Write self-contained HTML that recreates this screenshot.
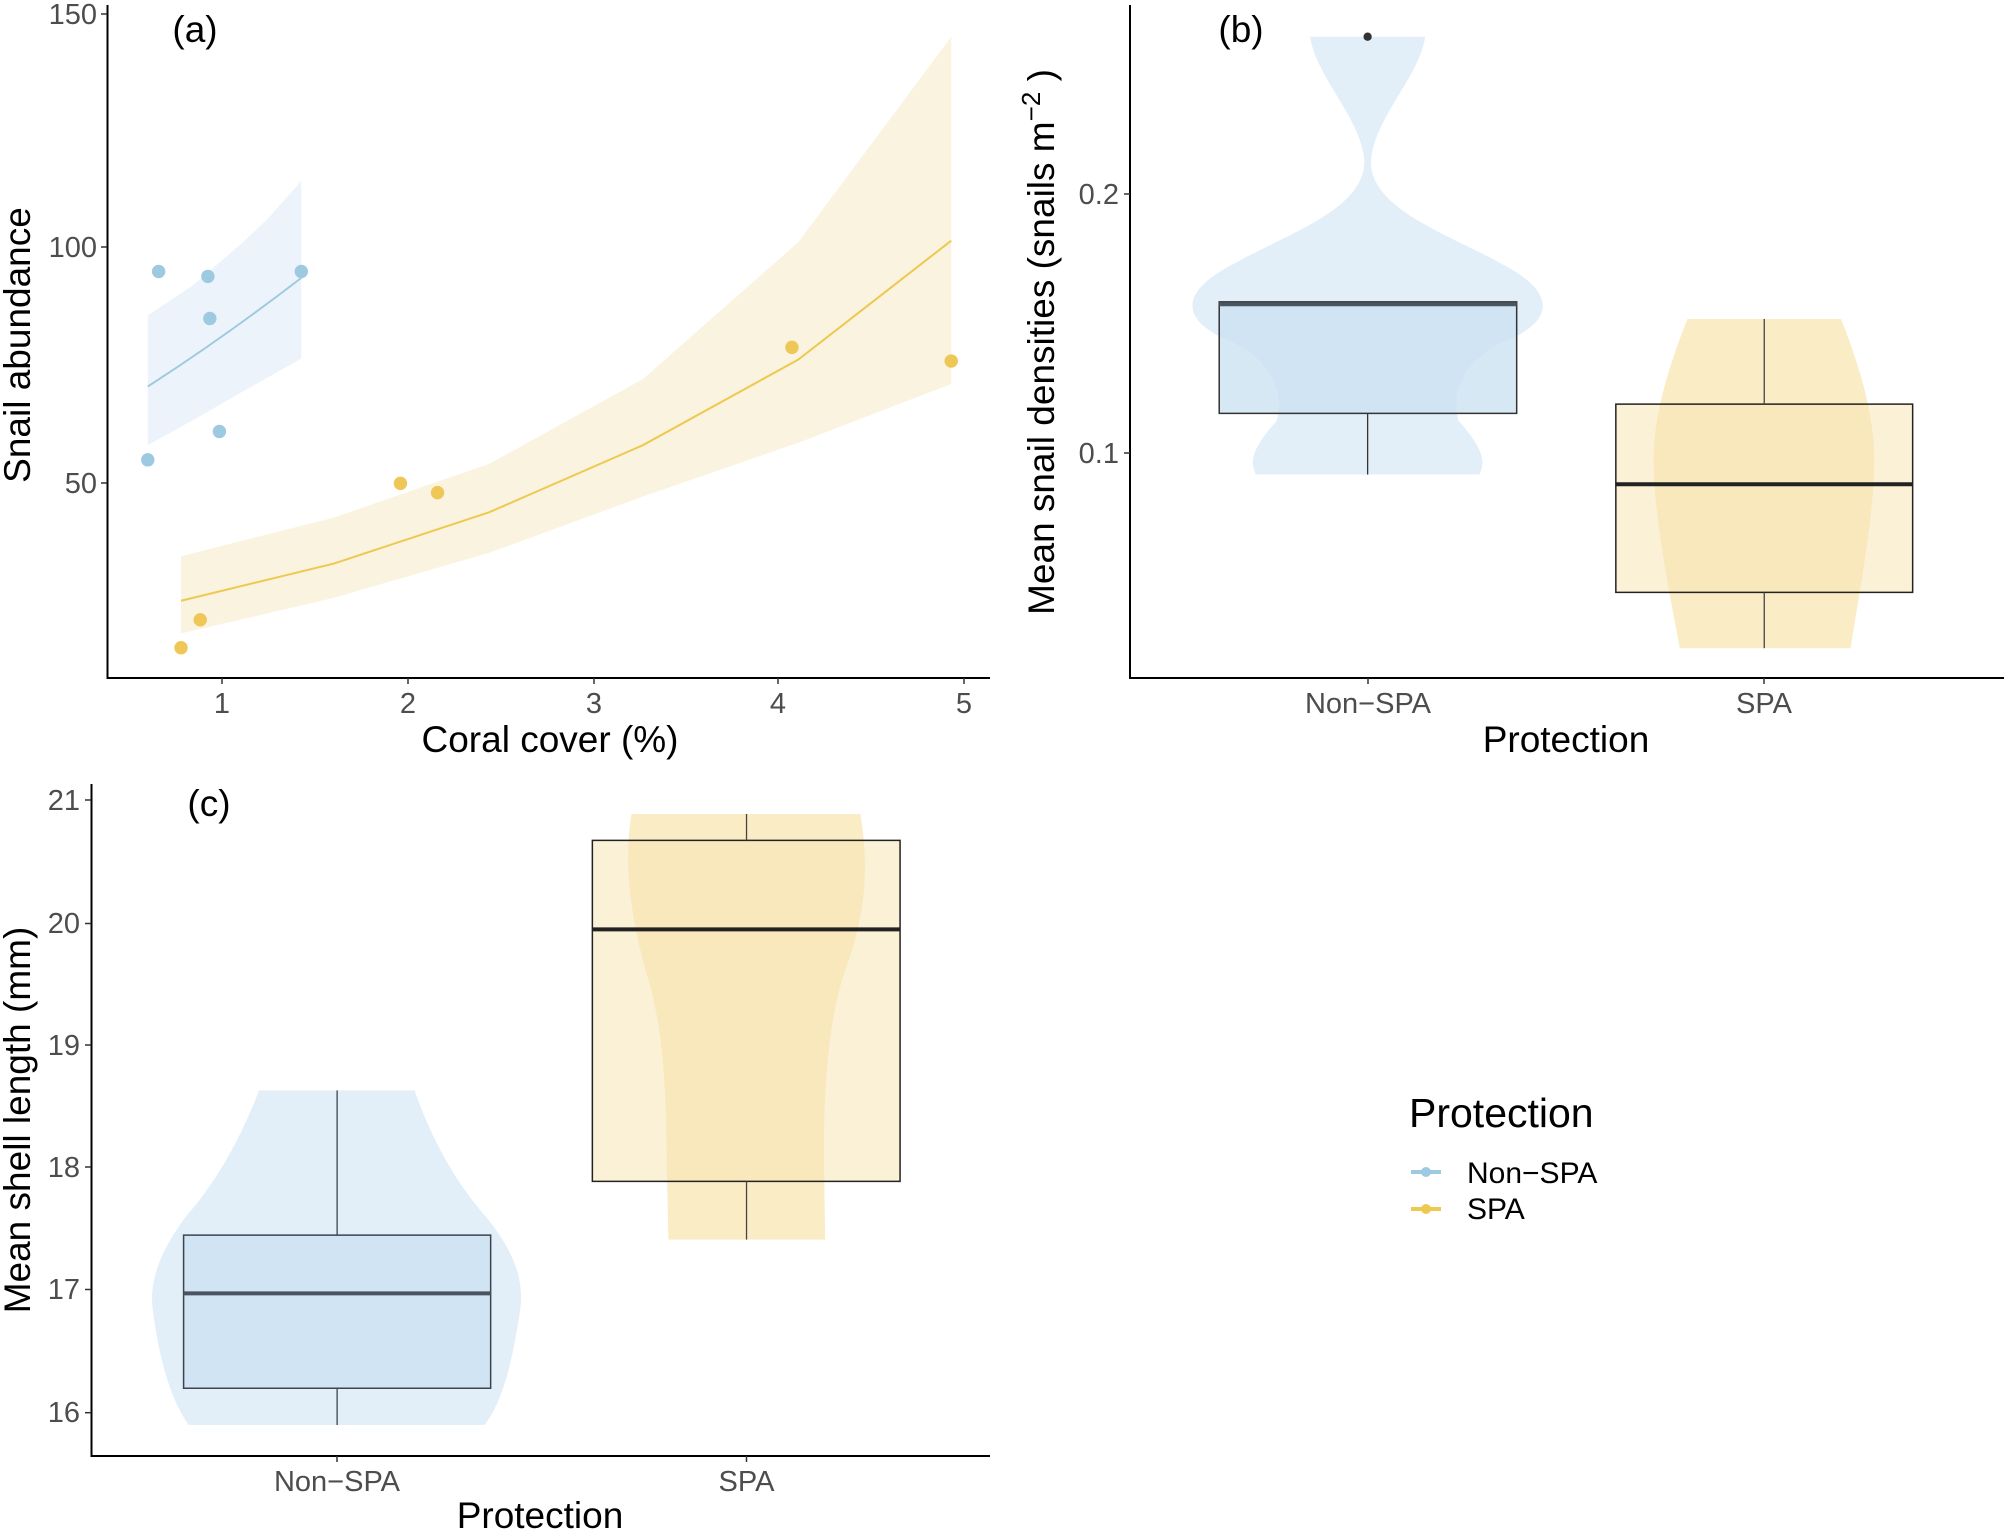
<!DOCTYPE html>
<html><head><meta charset="utf-8"><style>
html,body{margin:0;padding:0;background:#fff;overflow:hidden;}
svg{display:block;}
text{font-family:"Liberation Sans",sans-serif;}
</style></head><body>
<svg width="2006" height="1534" viewBox="0 0 2006 1534" xmlns="http://www.w3.org/2000/svg">
<rect width="2006" height="1534" fill="#fff"/>

<!-- Panel a shapes -->
<g transform="scale(0.6397,0.4892)">
  <polygon points="231,645 300,585 380,495 420,445 471,370 471,733 380,800 300,860 231,910" fill="#edf3fa"/>
  <polygon points="283,1137 522,1058 765,948 1005,775 1248,495 1487,75 1487,785 1248,905 1005,1015 765,1130 522,1222 283,1295" fill="#faf3e0"/>
  <path d="M231,790 Q350,690 471,568" fill="none" stroke="#9ecae1" stroke-width="2" vector-effect="non-scaling-stroke"/>
  <polyline points="283,1228 522,1152 765,1047 1005,910 1248,735 1487,492" fill="none" stroke="#eec94f" stroke-width="2" vector-effect="non-scaling-stroke"/>
  <g fill="#9ecae1">
    <ellipse cx="248" cy="555" rx="10.5" ry="13.7"/><ellipse cx="325" cy="565" rx="10.5" ry="13.7"/><ellipse cx="328" cy="651" rx="10.5" ry="13.7"/>
    <ellipse cx="343" cy="882" rx="10.5" ry="13.7"/><ellipse cx="231" cy="940" rx="10.5" ry="13.7"/><ellipse cx="471" cy="555" rx="10.5" ry="13.7"/>
  </g>
  <g fill="#efc757">
    <ellipse cx="283" cy="1324" rx="10.5" ry="13.7"/><ellipse cx="313" cy="1267" rx="10.5" ry="13.7"/><ellipse cx="626" cy="988" rx="10.5" ry="13.7"/>
    <ellipse cx="684" cy="1007" rx="10.5" ry="13.7"/><ellipse cx="1238" cy="710" rx="10.5" ry="13.7"/><ellipse cx="1487" cy="738" rx="10.5" ry="13.7"/>
  </g>
</g>
<g stroke="#000" stroke-width="2" fill="none">
  <line x1="107.5" y1="5" x2="107.5" y2="679"/><line x1="106.5" y1="678" x2="990" y2="678"/>
</g>
<g stroke="#333" stroke-width="1.5">
  <line x1="101" y1="14" x2="107" y2="14"/><line x1="101" y1="247" x2="107" y2="247"/><line x1="101" y1="483" x2="107" y2="483"/>
  <line x1="222" y1="678" x2="222" y2="684"/><line x1="408" y1="678" x2="408" y2="684"/><line x1="594" y1="678" x2="594" y2="684"/><line x1="778" y1="678" x2="778" y2="684"/><line x1="964" y1="678" x2="964" y2="684"/>
</g>
<g fill="#4d4d4d" font-size="29" text-anchor="end">
  <text x="97" y="24">150</text><text x="97" y="257">100</text><text x="97" y="493">50</text>
</g>
<g fill="#4d4d4d" font-size="29" text-anchor="middle">
  <text x="222" y="713">1</text><text x="408" y="713">2</text><text x="594" y="713">3</text><text x="778" y="713">4</text><text x="964" y="713">5</text>
</g>
<text x="550" y="752" font-size="37" text-anchor="middle">Coral cover (%)</text>
<text transform="translate(30,345) rotate(-90)" font-size="37" text-anchor="middle">Snail abundance</text>
<text x="195" y="42" font-size="37" text-anchor="middle">(a)</text>

<!-- Panel b shapes -->
<g transform="translate(1003,0) scale(0.6397,0.4892)">
  <path d="M480,75 L660,75 C650,160 580,240 575,330 C575,430 700,480 780,540 C870,600 860,660 780,700 C720,740 700,800 712,860 C760,930 750,950 745,970 L395,970 C390,950 380,930 428,860 C440,800 420,740 360,700 C280,660 270,600 360,540 C440,480 565,430 565,330 C560,240 490,160 480,75 Z" fill="#e2eef8"/>
  <rect x="338" y="617" width="465" height="228" fill="#c9e0f2" fill-opacity="0.75" stroke="#333" stroke-width="1.5" vector-effect="non-scaling-stroke"/>
  <line x1="338" y1="622" x2="803" y2="622" stroke="#4a5560" stroke-width="4" vector-effect="non-scaling-stroke"/>
  <line x1="570" y1="845" x2="570" y2="970" stroke="#333" stroke-width="1.3" vector-effect="non-scaling-stroke"/>
  <ellipse cx="570" cy="75" rx="6.5" ry="8.5" fill="#333"/>
  <path d="M1070,652 L1310,652 C1340,750 1362,850 1362,940 C1362,1050 1340,1200 1325,1325 L1058,1325 C1040,1200 1017,1050 1017,940 C1017,850 1040,750 1070,652 Z" fill="#f9e7b6" fill-opacity="0.8"/>
  <rect x="958" y="826" width="464" height="385" fill="#f6e5b5" fill-opacity="0.55" stroke="#222" stroke-width="1.5" vector-effect="non-scaling-stroke"/>
  <line x1="958" y1="990" x2="1422" y2="990" stroke="#222" stroke-width="4" vector-effect="non-scaling-stroke"/>
  <line x1="1190" y1="652" x2="1190" y2="826" stroke="#444" stroke-width="1.3" vector-effect="non-scaling-stroke"/>
  <line x1="1190" y1="1211" x2="1190" y2="1325" stroke="#444" stroke-width="1.3" vector-effect="non-scaling-stroke"/>
</g>
<g stroke="#000" stroke-width="2" fill="none">
  <line x1="1130" y1="5" x2="1130" y2="679"/><line x1="1129" y1="678" x2="2004" y2="678"/>
</g>
<g stroke="#333" stroke-width="1.5">
  <line x1="1124" y1="194" x2="1130" y2="194"/><line x1="1124" y1="453" x2="1130" y2="453"/>
  <line x1="1368" y1="678" x2="1368" y2="684"/><line x1="1764" y1="678" x2="1764" y2="684"/>
</g>
<g fill="#4d4d4d" font-size="29" text-anchor="end">
  <text x="1119" y="204">0.2</text><text x="1119" y="463">0.1</text>
</g>
<g fill="#4d4d4d" font-size="29" text-anchor="middle">
  <text x="1368" y="713">Non−SPA</text><text x="1764" y="713">SPA</text>
</g>
<text x="1566" y="752" font-size="37" text-anchor="middle">Protection</text>
<text transform="translate(1054,342) rotate(-90)" font-size="37" text-anchor="middle">Mean snail densities (snails  m<tspan dy="-14" font-size="26">−2</tspan><tspan dy="14"> )</tspan></text>
<text x="1241" y="42" font-size="37" text-anchor="middle">(b)</text>

<!-- Panel c shapes -->
<g transform="translate(0,767) scale(0.6397,0.4892)">
  <path d="M405,661 L648,661 C680,780 720,860 760,920 C810,1000 820,1060 812,1120 C800,1220 785,1300 757,1345 L295,1345 C270,1300 250,1220 240,1120 C232,1060 245,1000 290,920 C330,860 370,780 405,661 Z" fill="#e2eef8"/>
  <rect x="287" y="957" width="480" height="313" fill="#c9e0f2" fill-opacity="0.75" stroke="#3a4550" stroke-width="1.5" vector-effect="non-scaling-stroke"/>
  <line x1="287" y1="1076" x2="767" y2="1076" stroke="#4a5560" stroke-width="4" vector-effect="non-scaling-stroke"/>
  <line x1="527" y1="661" x2="527" y2="957" stroke="#3a4550" stroke-width="1.3" vector-effect="non-scaling-stroke"/>
  <line x1="527" y1="1270" x2="527" y2="1345" stroke="#3a4550" stroke-width="1.3" vector-effect="non-scaling-stroke"/>
  <path d="M987,96 L1345,96 C1358,200 1355,300 1320,420 C1295,520 1288,650 1288,800 L1290,966 L1045,966 L1042,800 C1042,650 1035,520 1010,420 C985,300 975,200 987,96 Z" fill="#f9e7b6" fill-opacity="0.8"/>
  <rect x="926" y="150" width="481" height="697" fill="#f6e5b5" fill-opacity="0.55" stroke="#222" stroke-width="1.5" vector-effect="non-scaling-stroke"/>
  <line x1="926" y1="332" x2="1407" y2="332" stroke="#222" stroke-width="4" vector-effect="non-scaling-stroke"/>
  <line x1="1167" y1="96" x2="1167" y2="150" stroke="#444" stroke-width="1.3" vector-effect="non-scaling-stroke"/>
  <line x1="1167" y1="847" x2="1167" y2="966" stroke="#444" stroke-width="1.3" vector-effect="non-scaling-stroke"/>
</g>
<g stroke="#000" stroke-width="2" fill="none">
  <line x1="91.5" y1="784" x2="91.5" y2="1457"/><line x1="90.5" y1="1456" x2="990" y2="1456"/>
</g>
<g stroke="#333" stroke-width="1.5">
  <line x1="85" y1="800" x2="91" y2="800"/><line x1="85" y1="923.5" x2="91" y2="923.5"/><line x1="85" y1="1045" x2="91" y2="1045"/>
  <line x1="85" y1="1167" x2="91" y2="1167"/><line x1="85" y1="1289.5" x2="91" y2="1289.5"/><line x1="85" y1="1412.7" x2="91" y2="1412.7"/>
  <line x1="337" y1="1456" x2="337" y2="1462"/><line x1="746.5" y1="1456" x2="746.5" y2="1462"/>
</g>
<g fill="#4d4d4d" font-size="29" text-anchor="end">
  <text x="80" y="810">21</text><text x="80" y="933">20</text><text x="80" y="1055">19</text>
  <text x="80" y="1177">18</text><text x="80" y="1299">17</text><text x="80" y="1422">16</text>
</g>
<g fill="#4d4d4d" font-size="29" text-anchor="middle">
  <text x="337" y="1491">Non−SPA</text><text x="746.5" y="1491">SPA</text>
</g>
<text x="540" y="1528" font-size="37" text-anchor="middle">Protection</text>
<text transform="translate(30,1120) rotate(-90)" font-size="37" text-anchor="middle">Mean shell length (mm)</text>
<text x="209" y="816" font-size="37" text-anchor="middle">(c)</text>

<!-- Legend -->
<text x="1409" y="1127" font-size="41">Protection</text>
<line x1="1411" y1="1172" x2="1441" y2="1172" stroke="#9ecae1" stroke-width="4"/>
<circle cx="1426" cy="1172" r="5" fill="#9ecae1"/>
<line x1="1411" y1="1209" x2="1441" y2="1209" stroke="#eec94f" stroke-width="4"/>
<circle cx="1426" cy="1209" r="5" fill="#eec94f"/>
<text x="1467" y="1183" font-size="30">Non−SPA</text>
<text x="1467" y="1219" font-size="30">SPA</text>
</svg>
</body></html>
